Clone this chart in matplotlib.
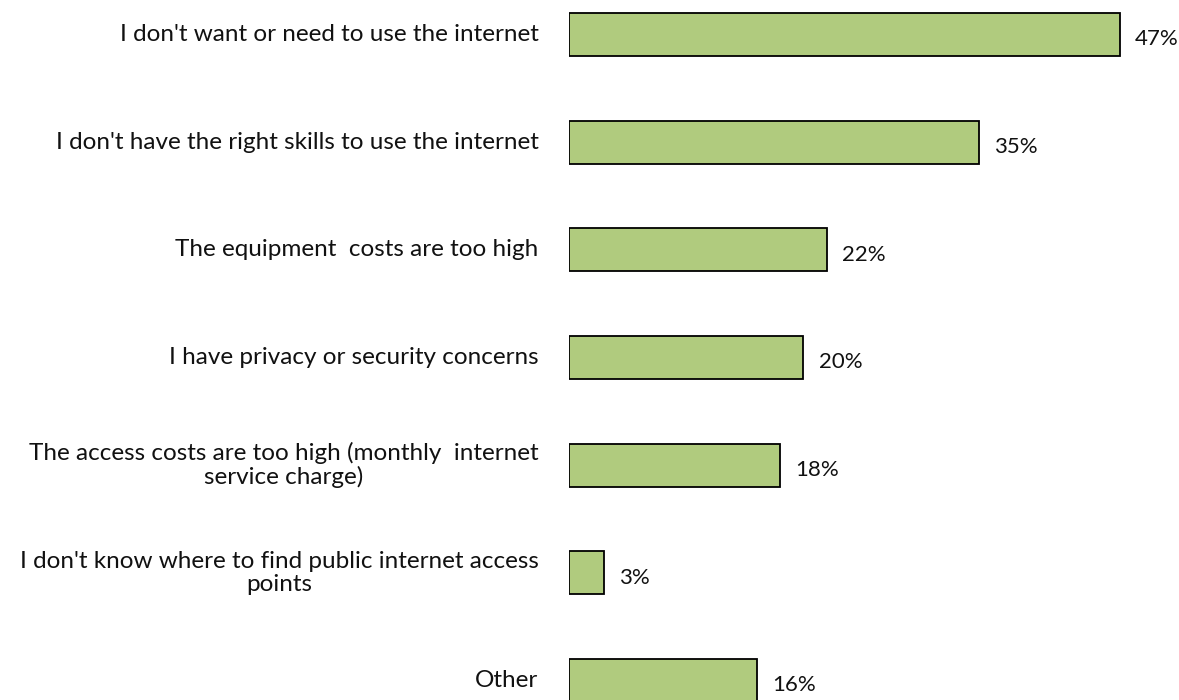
import numpy as np
import matplotlib.pyplot as plt

# reasons for not using the internet, share of respondents (%)
reasons = [
    "I don't want or need to use the internet",
    "I don't have the right skills to use the internet",
    "The equipment  costs are too high",
    "I have privacy or security concerns",
    "The access costs are too high (monthly  internet\nservice charge)",
    "I don't know where to find public internet access\npoints",
    "Other",
]
shares = [47, 35, 22, 20, 18, 3, 16]

BAR_COLOR = '#b0cb7e'

plt.rcParams['font.family'] = ['Lato', 'DejaVu Sans']

fig = plt.figure(figsize=(11.79, 7.0), dpi=100)
# axes start where the bars start; labels sit in the free space to the left
ax = fig.add_axes([569 / 1179, 0, 1 - 569 / 1179, 1])

y = np.arange(len(reasons))
bars = ax.barh(y, shares, height=0.40, color=BAR_COLOR,
               edgecolor='black', linewidth=1.3)

ax.set_xlim(0, (1179 - 569) / 11.72)
ax.set_ylim(6.18, -0.32)
ax.axis('off')

for yi, name in zip(y, reasons):
    ax.annotate(name, xy=(0, yi), xytext=(-22, 0), textcoords='offset points',
                ha='right', va='center', multialignment='center',
                fontsize=17.5, linespacing=1.12, color='#111111')

for bar, val in zip(bars, shares):
    ax.annotate(f'{val}%', xy=(bar.get_width(), bar.get_y() + bar.get_height() / 2),
                xytext=(11, -3.5), textcoords='offset points',
                ha='left', va='center', fontsize=16, color='#111111')

fig.savefig('out.png', dpi=100)
